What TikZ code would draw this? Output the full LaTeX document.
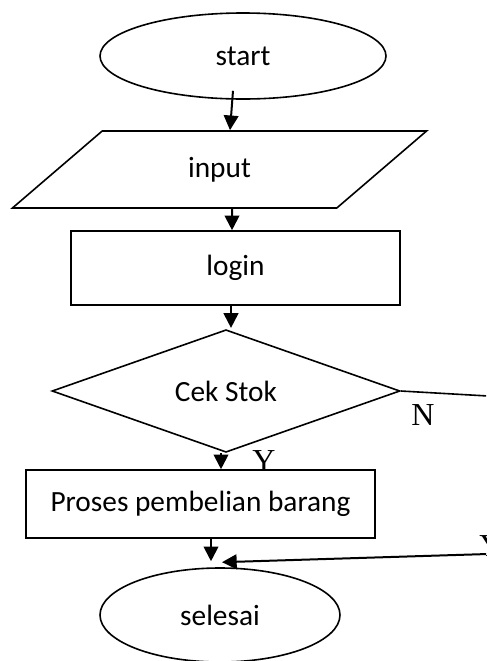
\documentclass[tikz,border=0pt]{standalone}
\usepackage{fontspec}
\setmainfont{Carlito}
\newfontfamily\yesno{Liberation Serif}
\usetikzlibrary{shapes.geometric,arrows.meta}

\begin{document}
\begin{tikzpicture}[x=0.375pt,y=-0.375pt]
  \tikzset{
      > = {Triangle[length=5.5pt,width=5.5pt]},
      every node/.append style = {
          font = \fontsize{11}{13}\selectfont,
          line width = 0.6pt
      },
      every edge/.append style = {
          arrows = ->,
          line width = 0.75pt
      },
      terminal/.style = {
          draw, shape = ellipse, inner sep = 0pt
      },
      io/.style = {
          draw, shape = trapezium, inner sep = 0pt,
          trapezium left angle = 46, trapezium right angle = 134,
          trapezium stretches = true
      },
      process/.style = {
          draw, shape = rectangle, inner sep = 0pt
      },
      decision/.style = {
          draw, shape = diamond, inner sep = 0pt
      },
      answer/.style = {
          font = \yesno\fontsize{12}{14}\selectfont
      }
  }
  \useasboundingbox (0,0) rectangle (486,661);
  \clip (0,0) rectangle (486,661);

  \node[terminal, minimum width=107.25pt, minimum height=32.25pt] (start) at (243,56) {start};
  \node[io, minimum width=155.6pt, minimum height=28.9pt] (input) at (219.5,169.5) {input};
  \node[process, minimum width=123.4pt, minimum height=27.75pt] (login) at (235.5,268) {login};
  \node[decision, minimum width=130.5pt, minimum height=43.5pt] (cek) at (226,391) {Cek Stok};
  \node[process, minimum width=130.9pt, minimum height=25.5pt] (proses) at (200.5,504) {Proses pembelian barang};
  \node[terminal, minimum width=90pt, minimum height=35.25pt] (selesai) at (220,615) {selesai};

  \node[answer] (n) at (423,415) {N};
  \node[answer] (y) at (264,461) {Y};
  \node[answer] (y2) at (491,546) {Y};

  \coordinate (nout) at (488,396);
  \coordinate (yin) at (488,554);

  \path ([shift={(-10,-9)}]start.south) edge ([shift={(10.5,0)}]input.north);
  \path ([shift={(12.5,0)}]input.south) edge ([shift={(-3.5,0)}]login.north);
  \path ([shift={(-4.5,0)}]login.south) edge ([shift={(5,-1)}]cek.north);
  \path ([shift={(-5,0)}]cek.south) edge ([shift={(-5,0)}]proses.north -| cek.south);
  \path ([shift={(10.5,0)}]proses.south) edge ([shift={(-9,-6)}]selesai.north);
  \draw[line width=0.6pt] (cek.east) -- (nout);
  \path (yin) edge ([shift={(2,-5)}]selesai.north);
\end{tikzpicture}
\end{document}
